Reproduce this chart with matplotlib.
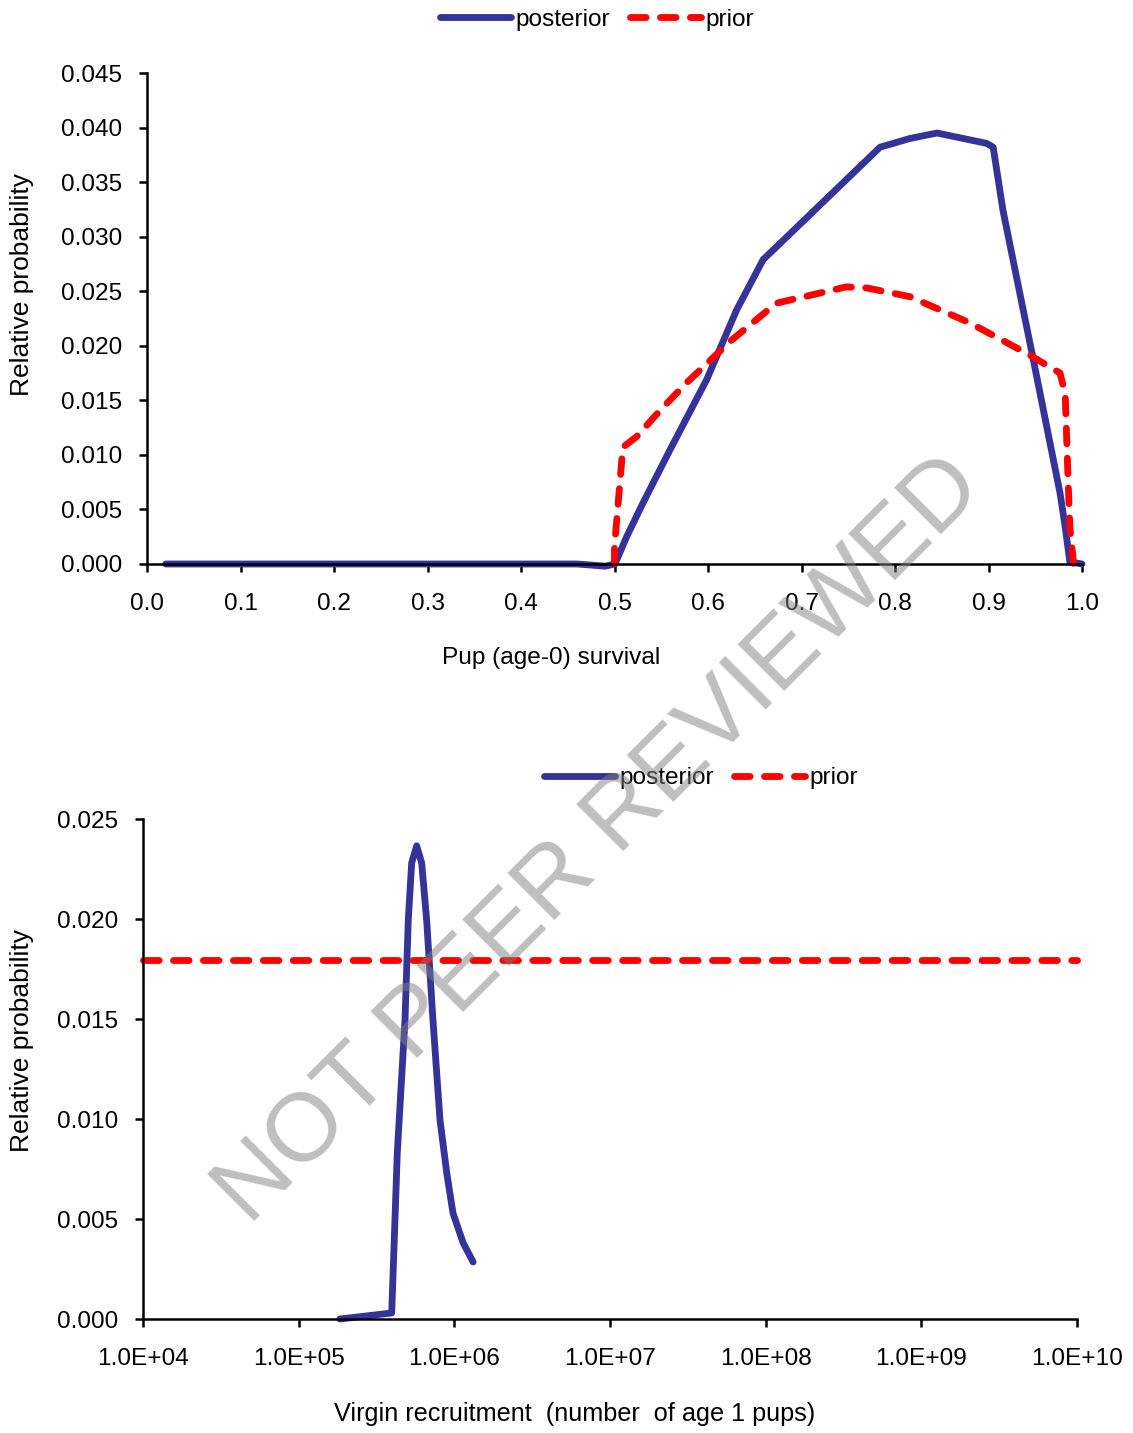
import numpy as np
import matplotlib
matplotlib.use('Agg')
import matplotlib.pyplot as plt
from matplotlib.ticker import FixedLocator, FuncFormatter, NullLocator

plt.rcParams['font.family'] = ['Liberation Sans', 'DejaVu Sans']

# ── Top panel: pup (age-0) survival ───────────────────────────
surv_post_x = [0.02, 0.46, 0.49, 0.5005, 0.513, 0.5305, 0.559, 0.5986, 0.6307,
               0.659, 0.670, 0.784, 0.816, 0.845, 0.898, 0.905, 0.9155, 0.948,
               0.9765, 0.982, 0.987, 1.0]
surv_post_y = [0.0, 0.0, -0.0002, 0.0, 0.0025, 0.0056, 0.0104, 0.0169, 0.0233,
               0.0279, 0.0288, 0.0382, 0.0390, 0.0395, 0.03855, 0.0382, 0.0324,
               0.0187, 0.0065, 0.0034, 0.0002, 0.0]

surv_prior_x = [0.500, 0.500, 0.506, 0.509, 0.524, 0.549, 0.577, 0.625, 0.673,
                0.748, 0.770, 0.816, 0.880, 0.941, 0.9765, 0.982, 0.985, 0.987,
                0.991]
surv_prior_y = [0.0, 0.0016, 0.0077, 0.0107, 0.0117, 0.0141, 0.0166, 0.0205,
                0.0239, 0.0254, 0.0253, 0.0245, 0.0221, 0.0193, 0.0175, 0.0156,
                0.0080, 0.0034, 0.0]

surv_xticks = [0.0, 0.1, 0.2, 0.3, 0.4, 0.5, 0.6, 0.7, 0.8, 0.9, 1.0]
surv_yticks = [0.000, 0.005, 0.010, 0.015, 0.020, 0.025, 0.030, 0.035, 0.040, 0.045]

# ── Bottom panel: virgin recruitment ──────────────────────────
rec_post_x = [1.84e5, 3.96e5, 4.30e5, 4.82e5, 5.06e5, 5.32e5, 5.73e5, 6.17e5,
              6.64e5, 7.29e5, 8.09e5, 8.94e5, 9.80e5, 1.14e6, 1.32e6]
rec_post_y = [0.0, 0.0003, 0.0083, 0.01495, 0.01995, 0.0228, 0.02366, 0.0228,
              0.01995, 0.01495, 0.00995, 0.0073, 0.0053, 0.0038, 0.00285]

rec_prior_x = [1.0e4, 1.0e10]
rec_prior_y = [0.01795, 0.01795]

rec_xticks = [1e4, 1e5, 1e6, 1e7, 1e8, 1e9, 1e10]
rec_yticks = [0.000, 0.005, 0.010, 0.015, 0.020, 0.025]

BLUE = '#333399'
RED = '#ff0000'
LW = 4.9
FS = 17.6
W, H = 1133, 1433


def style_axes(ax):
    for side in ('top', 'right'):
        ax.spines[side].set_visible(False)
    for side in ('left', 'bottom'):
        ax.spines[side].set_linewidth(1.8)
    ax.tick_params(axis='both', direction='out', length=6, width=1.8,
                   labelsize=FS)
    ax.tick_params(axis='x', pad=15)
    ax.tick_params(axis='y', pad=12)


def draw_lines(ax, px, py, qx, qy):
    ax.plot(px, py, color=BLUE, lw=LW, solid_capstyle='round',
            solid_joinstyle='round', label='posterior', clip_on=False)
    ax.plot(qx, qy, color=RED, lw=LW, dashes=(2.3, 2.1),
            dash_capstyle='round', label='prior', clip_on=False)


fig = plt.figure(figsize=(W / 100, H / 100), dpi=100)

# top axes
ax1 = fig.add_axes([147 / W, 1 - 564 / H, (1082 - 147) / W, (564 - 73) / H])
draw_lines(ax1, surv_post_x, surv_post_y, surv_prior_x, surv_prior_y)
ax1.set_xlim(0, 1.0)
ax1.set_ylim(0, 0.045)
ax1.xaxis.set_major_locator(FixedLocator(surv_xticks))
ax1.yaxis.set_major_locator(FixedLocator(surv_yticks))
ax1.xaxis.set_major_formatter(FuncFormatter(lambda v, p: f'{v:.1f}'))
ax1.yaxis.set_major_formatter(FuncFormatter(lambda v, p: f'{v:.3f}'))
style_axes(ax1)
fig.legend(*ax1.get_legend_handles_labels(), loc='center',
           bbox_to_anchor=(597 / W, 1 - 20 / H), ncol=2, frameon=False,
           fontsize=FS, handlelength=2.9, handletextpad=0.2,
           columnspacing=0.8)

# bottom axes
ax2 = fig.add_axes([143 / W, 1 - 1319 / H, (1077 - 143) / W, (1319 - 819) / H])
draw_lines(ax2, rec_post_x, rec_post_y, rec_prior_x, rec_prior_y)
ax2.set_xscale('log')
ax2.set_xlim(1e4, 1e10)
ax2.set_ylim(0, 0.025)
ax2.xaxis.set_major_locator(FixedLocator(rec_xticks))
ax2.xaxis.set_minor_locator(NullLocator())
ax2.yaxis.set_major_locator(FixedLocator(rec_yticks))
ax2.xaxis.set_major_formatter(FuncFormatter(lambda v, p: f'{v:.1E}'))
ax2.yaxis.set_major_formatter(FuncFormatter(lambda v, p: f'{v:.3f}'))
style_axes(ax2)
fig.legend(*ax2.get_legend_handles_labels(), loc='center',
           bbox_to_anchor=(701 / W, 1 - 778 / H), ncol=2, frameon=False,
           fontsize=FS, handlelength=2.9, handletextpad=0.2,
           columnspacing=0.8)

# axis titles
fig.text(22 / W, 1 - 284 / H, 'Relative probability', rotation=90,
         ha='center', va='center', fontsize=19)
fig.text(22 / W, 1 - 1040 / H, 'Relative probability', rotation=90,
         ha='center', va='center', fontsize=19)
fig.text(551 / W, 1 - 658 / H, 'Pup (age-0) survival', ha='center',
         va='center', fontsize=FS)
fig.text(575 / W, 1 - 1414 / H, 'Virgin recruitment  (number  of age 1 pups)',
         ha='center', va='center', fontsize=18.2)

# watermark
fig.text(600 / W, 1 - 840 / H, 'NOT PEER REVIEWED', rotation=45,
         ha='center', va='center', fontsize=70, color='#808080', alpha=0.5,
         zorder=10)

fig.savefig('out.png', dpi=100)
